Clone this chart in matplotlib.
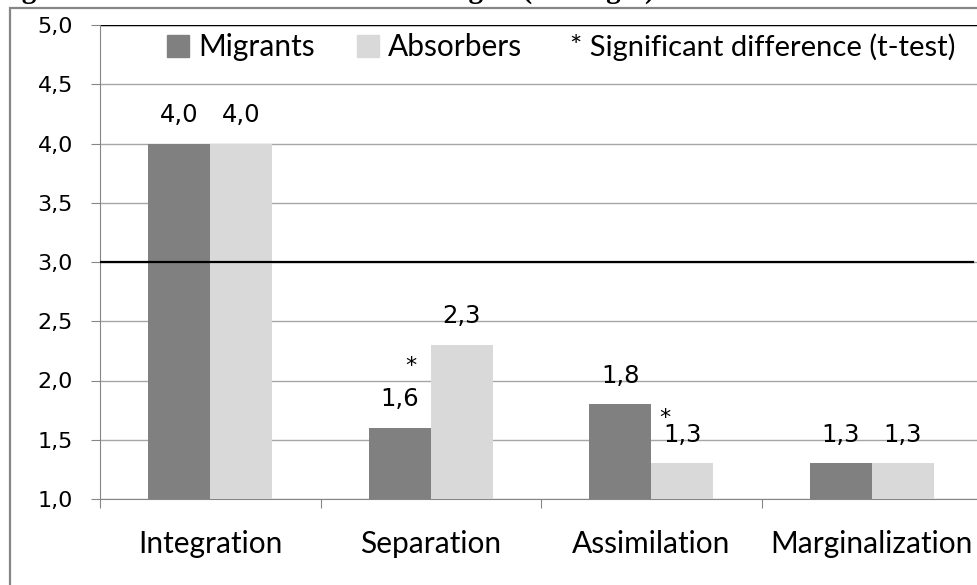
import matplotlib.pyplot as plt
from matplotlib.patches import Rectangle, Patch
import numpy as np

categories = ["Integration", "Separation", "Assimilation", "Marginalization"]
migrants = [4.0, 1.6, 1.8, 1.3]
absorbers = [4.0, 2.3, 1.3, 1.3]
migrant_labels = ["4,0", "1,6", "1,8", "1,3"]
absorber_labels = ["4,0", "2,3", "1,3", "1,3"]
y_ticks = [1.0, 1.5, 2.0, 2.5, 3.0, 3.5, 4.0, 4.5, 5.0]
y_tick_labels = ["1,0", "1,5", "2,0", "2,5", "3,0", "3,5", "4,0", "4,5", "5,0"]
# significance markers: (x position in category units, y value)
star_x = [0.91, 2.06]
star_y = [2.12, 1.68]

DARK = "#808080"
LIGHT = "#d9d9d9"
GRID = "#a6a6a6"
CAT_FONT = "Lato"
NUM_FONT = "DejaVu Sans"

W, H = 978, 585


def main():
    fig = plt.figure(figsize=(W / 100, H / 100), dpi=100)
    ax = fig.add_axes([100 / W, 1 - 499 / H, 882 / W, 474 / H])

    # chart area border (cut off on the right and bottom)
    fig.patches.append(Rectangle((10 / W, -0.1), 1.2, 1 - 8 / H + 0.1,
                                 transform=fig.transFigure, fill=False,
                                 edgecolor="#868686", linewidth=1.6))

    # caption above the chart, mostly cut off by the top edge
    fig.text(-4 / W, 1 + 2 / H, "Figure 6 General Acculturation Strategies (Averages)",
             family="Liberation Serif", weight="bold", fontsize=21,
             va="baseline", ha="left")

    x = np.arange(len(categories))
    bw = 0.281
    ax.bar(x - bw / 2, migrants, width=bw, color=DARK, label="Migrants", zorder=3)
    ax.bar(x + bw / 2, absorbers, width=bw, color=LIGHT, label="Absorbers", zorder=3)

    for i in range(len(categories)):
        ax.annotate(migrant_labels[i], (x[i] - bw / 2, migrants[i]),
                    xytext=(0, 12), textcoords="offset points",
                    ha="center", va="bottom", fontsize=17.5, family=NUM_FONT, zorder=4)
        ax.annotate(absorber_labels[i], (x[i] + bw / 2, absorbers[i]),
                    xytext=(0, 12), textcoords="offset points",
                    ha="center", va="bottom", fontsize=17.5, family=NUM_FONT, zorder=4)

    for sx, sy in zip(star_x, star_y):
        ax.text(sx, sy, "*", ha="center", va="center", fontsize=16,
                family=NUM_FONT, zorder=4)

    ax.set_xlim(-0.5, 3.5)
    ax.set_ylim(1.0, 5.0)
    ax.set_yticks(y_ticks)
    ax.set_yticklabels(y_tick_labels, family=NUM_FONT, fontsize=16)
    ax.set_xticks(x)
    ax.set_xticklabels(categories, family=CAT_FONT, fontsize=21.5)
    ax.set_xticks(np.arange(-0.5, 4.0, 1.0), minor=True)

    ax.tick_params(axis="y", length=6.5, width=0.8, color="#868686", pad=13)
    ax.tick_params(axis="x", which="major", length=0, pad=22)
    ax.tick_params(axis="x", which="minor", length=6.5, width=0.8, color="#868686")

    ax.yaxis.grid(True, color=GRID, linewidth=1.0, zorder=0)
    ax.set_axisbelow(True)
    ax.axhline(5.0, color="black", linewidth=1.0, zorder=2)
    ax.axhline(3.0, color="black", linewidth=1.6, xmax=(973 - 100) / 882, zorder=5)

    for side in ["top", "right"]:
        ax.spines[side].set_visible(False)
    ax.spines["left"].set_color("#868686")
    ax.spines["bottom"].set_color("#868686")

    handles = [Patch(color=DARK), Patch(color=LIGHT)]
    ax.legend(handles, ["Migrants", "Absorbers"], ncol=2, frameon=False,
              loc="center left", bbox_to_anchor=((140 - 100) / 882, 1 - 22 / 474),
              prop={"family": CAT_FONT, "size": 21.5},
              handlelength=0.75, handleheight=0.75, handletextpad=0.3,
              columnspacing=1.4)
    ax.text((570 - 100) / 882, 1 - 22 / 474, "* Significant difference (t-test)",
            transform=ax.transAxes, ha="left", va="center",
            family=CAT_FONT, fontsize=21)

    fig.savefig("out.png", dpi=100)
    plt.close(fig)


if __name__ == "__main__":
    main()
